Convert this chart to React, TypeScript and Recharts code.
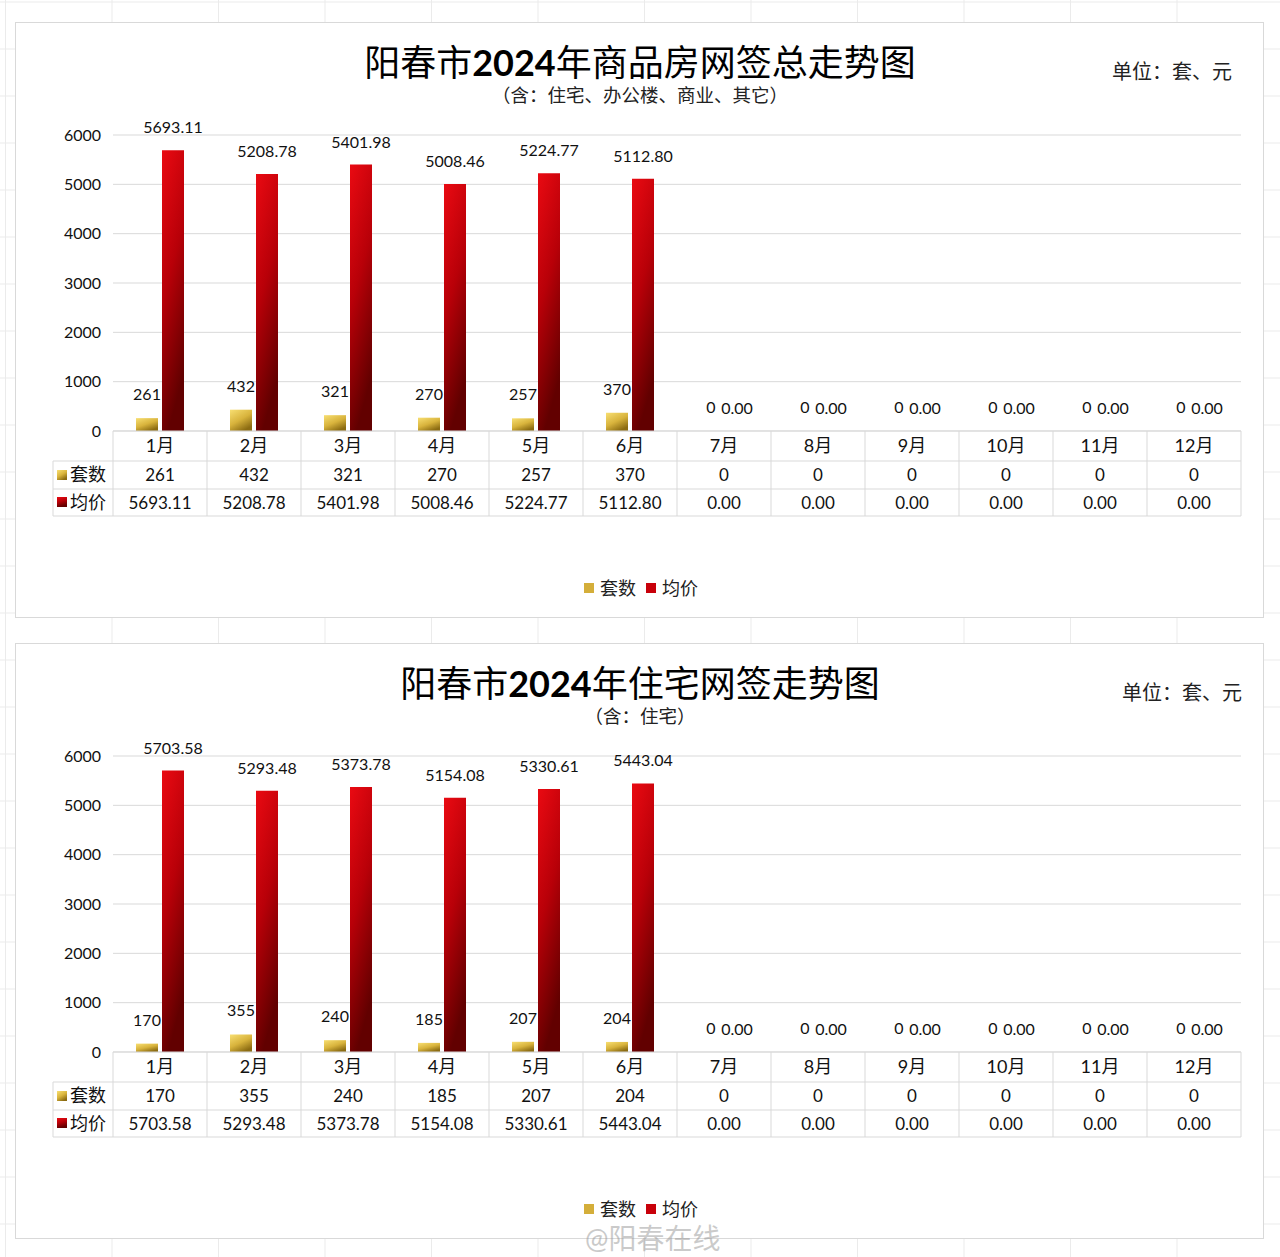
import React from "react";
import { BarChart, Bar, XAxis, YAxis, CartesianGrid, LabelList } from "recharts";

const months = ["1月", "2月", "3月", "4月", "5月", "6月", "7月", "8月", "9月", "10月", "11月", "12月"];
const seriesNames = ["套数", "均价"];
const yTicks = [0, 1000, 2000, 3000, 4000, 5000, 6000];

// 商品房（含住宅、办公楼、商业、其它）
const allUnits = [261, 432, 321, 270, 257, 370, 0, 0, 0, 0, 0, 0];
const allPrice = [5693.11, 5208.78, 5401.98, 5008.46, 5224.77, 5112.8, 0, 0, 0, 0, 0, 0];

// 住宅
const homeUnits = [170, 355, 240, 185, 207, 204, 0, 0, 0, 0, 0, 0];
const homePrice = [5703.58, 5293.48, 5373.78, 5154.08, 5330.61, 5443.04, 0, 0, 0, 0, 0, 0];

const FONT = "Lato, 'Noto Sans CJK SC', sans-serif";
const GRID = "#d9d9d9";
const CHART_H = 596;
const PLOT_LEFT = 113;
const PLOT_RIGHT = 1241;
const PLOT_TOP = 113;
const BASE_Y = 409;
const BAND = (PLOT_RIGHT - PLOT_LEFT) / 12;

// keep zero bars in the layout so their labels still show
const tinyMin = (v: any) => (Number(v) === 0 ? 0.001 : 0);

function TableTick(props: any) {
  const { x, payload, units, prices, gid } = props;
  const i = payload.index;
  const left = x - BAND / 2;
  const right = x + BAND / 2;
  const y0 = BASE_Y;
  const line = { stroke: GRID, strokeWidth: 1 };
  return (
    <g fontFamily={FONT} fill="#111">
      <line x1={left} y1={y0} x2={left} y2={y0 + 85} {...line} />
      {i === 11 && <line x1={right} y1={y0} x2={right} y2={y0 + 85} {...line} />}
      <line x1={left} y1={y0 + 30} x2={right} y2={y0 + 30} {...line} />
      <line x1={left} y1={y0 + 58} x2={right} y2={y0 + 58} {...line} />
      <line x1={left} y1={y0 + 85} x2={right} y2={y0 + 85} {...line} />
      <text x={x} y={y0 + 14} textAnchor="middle" dominantBaseline="central" fontSize={18}>
        {payload.value}
      </text>
      <text x={x} y={y0 + 43} textAnchor="middle" dominantBaseline="central" fontSize={17}>
        {units[i]}
      </text>
      <text x={x} y={y0 + 71} textAnchor="middle" dominantBaseline="central" fontSize={17}>
        {prices[i].toFixed(2)}
      </text>
      {i === 0 && (
        <g>
          <line x1={53} y1={y0 + 30} x2={left} y2={y0 + 30} {...line} />
          <line x1={53} y1={y0 + 58} x2={left} y2={y0 + 58} {...line} />
          <line x1={53} y1={y0 + 85} x2={left} y2={y0 + 85} {...line} />
          <line x1={53} y1={y0 + 30} x2={53} y2={y0 + 85} {...line} />
          <rect x={57} y={y0 + 39} width={10} height={10} fill={`url(#${gid}-gold)`} />
          <text x={70} y={y0 + 43} dominantBaseline="central" fontSize={18}>
            {seriesNames[0]}
          </text>
          <rect x={57} y={y0 + 66} width={10} height={10} fill={`url(#${gid}-red)`} />
          <text x={70} y={y0 + 71} dominantBaseline="central" fontSize={18}>
            {seriesNames[1]}
          </text>
        </g>
      )}
    </g>
  );
}

function Panel({ top, gid, title, subtitle, units, prices, unitRight }: any) {
  const data = months.map((m, i) => ({ month: m, units: units[i], price: prices[i] }));
  const labelStyle = { fontSize: 16, fill: "#111", fontFamily: FONT };
  return (
    <>
      <div
        style={{
          position: "absolute",
          left: 15,
          top,
          width: 1249,
          height: CHART_H,
          border: `1px solid ${GRID}`,
          background: "#fff",
          boxSizing: "border-box",
        }}
      />
      <div style={{ position: "absolute", left: 0, top, width: 1280, height: CHART_H }}>
        <BarChart
          width={1280}
          height={CHART_H}
          data={data}
          margin={{ top: PLOT_TOP, right: 1280 - PLOT_RIGHT, bottom: CHART_H - BASE_Y - 90, left: PLOT_LEFT - 56 }}
          barSize={22}
          barGap={4}
        >
          <defs>
            <linearGradient id={`${gid}-gold`} x1="0" y1="0" x2="0.6" y2="1">
              <stop offset="0%" stopColor="#f8df72" />
              <stop offset="55%" stopColor="#d8b33c" />
              <stop offset="100%" stopColor="#8c6c12" />
            </linearGradient>
            <linearGradient id={`${gid}-red`} x1="0" y1="0" x2="0.3" y2="1">
              <stop offset="0%" stopColor="#ea0a12" />
              <stop offset="50%" stopColor="#b80008" />
              <stop offset="100%" stopColor="#620000" />
            </linearGradient>
          </defs>
          <CartesianGrid vertical={false} stroke={GRID} />
          <XAxis
            dataKey="month"
            height={90}
            interval={0}
            tickLine={false}
            tickSize={0}
            axisLine={{ stroke: GRID }}
            tick={<TableTick units={units} prices={prices} gid={gid} />}
          />
          <YAxis
            width={56}
            domain={[0, 6000]}
            ticks={yTicks}
            axisLine={false}
            tickLine={false}
            tickSize={0}
            tickMargin={12}
            tick={{ fontSize: 16, fill: "#111", fontFamily: FONT }}
          />
          <Bar
            dataKey="units"
            name={seriesNames[0]}
            fill={`url(#${gid}-gold)`}
            minPointSize={tinyMin}
            isAnimationActive={false}
          >
            <LabelList dataKey="units" position="top" offset={18} style={labelStyle} />
          </Bar>
          <Bar
            dataKey="price"
            name={seriesNames[1]}
            fill={`url(#${gid}-red)`}
            minPointSize={tinyMin}
            isAnimationActive={false}
          >
            <LabelList
              dataKey="price"
              position="top"
              offset={17}
              formatter={(v: any) => Number(v).toFixed(2)}
              style={labelStyle}
            />
          </Bar>
        </BarChart>
      </div>
      <div
        style={{
          position: "absolute",
          left: 0,
          width: 1280,
          top: top + 21,
          textAlign: "center",
          fontSize: 36,
          lineHeight: "38px",
          fontFamily: FONT,
          color: "#000",
        }}
      >
        {title[0]}
        <b>{title[1]}</b>
        {title[2]}
      </div>
      <div
        style={{
          position: "absolute",
          left: 0,
          width: 1280,
          top: top + 62,
          textAlign: "center",
          fontSize: 18.5,
          lineHeight: "22px",
          fontFamily: FONT,
          color: "#222",
        }}
      >
        {subtitle}
      </div>
      <div
        style={{
          position: "absolute",
          right: 1280 - unitRight,
          top: top + 37,
          fontSize: 20,
          lineHeight: "24px",
          fontFamily: FONT,
          color: "#222",
        }}
      >
        单位：套、元
      </div>
      <div
        style={{
          position: "absolute",
          left: 0,
          width: 1280,
          top: top + 555,
          display: "flex",
          justifyContent: "center",
          alignItems: "center",
          fontSize: 18,
          lineHeight: "22px",
          fontFamily: FONT,
          color: "#222",
        }}
      >
        <svg width={14} height={12}>
          <rect x={2} y={1} width={10} height={10} fill="#d4ae3a" />
        </svg>
        <span style={{ marginLeft: 4, marginRight: 8 }}>{seriesNames[0]}</span>
        <svg width={14} height={12}>
          <rect x={2} y={1} width={10} height={10} fill="#c8000a" />
        </svg>
        <span style={{ marginLeft: 4 }}>{seriesNames[1]}</span>
      </div>
    </>
  );
}

export default function App() {
  const cols = Array.from({ length: 13 }, (_, k) => 5.5 + k * 106.5);
  const rows = Array.from({ length: 28 }, (_, k) => 2 + k * 47);
  return (
    <div style={{ position: "absolute", left: 0, top: 0, width: 1280, height: 1257, background: "#fff", overflow: "hidden" }}>
      <svg width={1280} height={1257} style={{ position: "absolute", left: 0, top: 0 }}>
        {cols.map((c) => (
          <line key={"c" + c} x1={c} y1={0} x2={c} y2={1257} stroke="#ebebeb" />
        ))}
        {rows.map((r) => (
          <line key={"r" + r} x1={0} y1={r} x2={1280} y2={r} stroke="#ebebeb" />
        ))}
      </svg>
      <Panel
        top={22}
        gid="all"
        title={["阳春市", "2024", "年商品房网签总走势图"]}
        subtitle="（含：住宅、办公楼、商业、其它）"
        units={allUnits}
        prices={allPrice}
        unitRight={1232}
      />
      <Panel
        top={643}
        gid="home"
        title={["阳春市", "2024", "年住宅网签走势图"]}
        subtitle="（含：住宅）"
        units={homeUnits}
        prices={homePrice}
        unitRight={1242}
      />
      <div
        style={{
          position: "absolute",
          left: 585,
          top: 1222,
          fontSize: 28,
          lineHeight: "32px",
          fontFamily: FONT,
          color: "rgba(150,150,150,0.5)",
        }}
      >
        @阳春在线
      </div>
    </div>
  );
}
